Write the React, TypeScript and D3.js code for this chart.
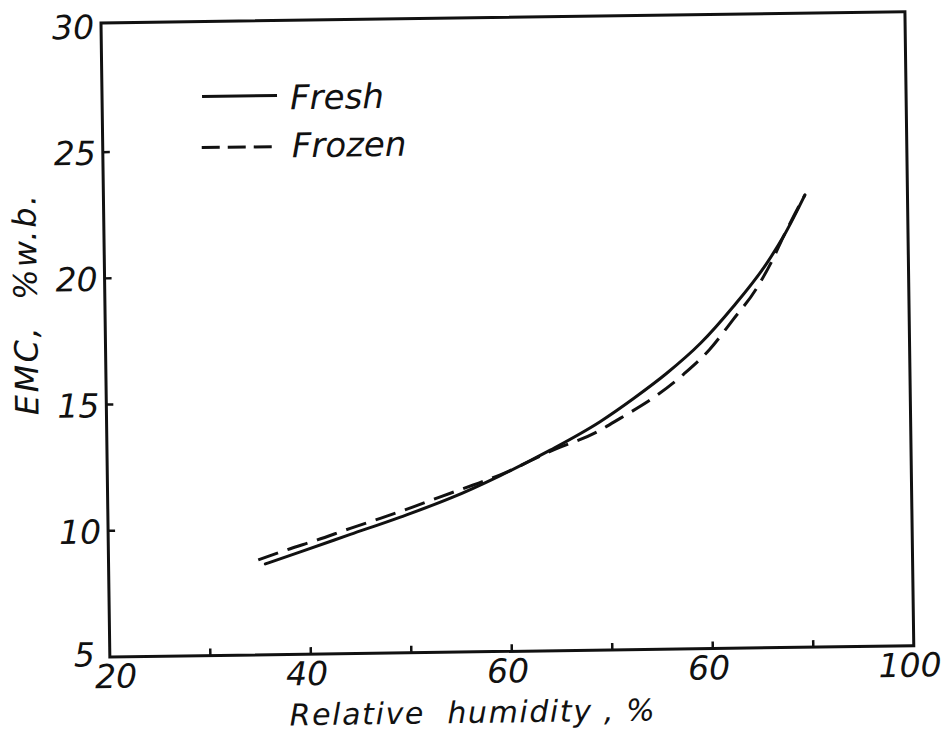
import React from 'react';
import * as d3 from 'd3';

// Axis ticks and labels (the original figure labels 80 as "60")
const xMinorTicks = [30, 40, 50, 60, 70, 80, 90];
const xLabelValues = [20, 40, 60, 80, 100];
const xLabelTexts = ['20', '40', '60', '60', '100'];
const yTickValues = [10, 15, 20, 25];
const yLabelValues = [5, 10, 15, 20, 25, 30];
const yLabelTexts = ['5', '10', '15', '20', '25', '30'];

// Series: relative humidity (%) vs EMC (% w.b.)
const freshRH = [35.6, 39.1, 44.1, 49.1, 54.1, 59.1, 64.1, 69.1, 72.5, 75.8, 79.2, 82.5, 85.9, 87.6, 89.8];
const freshEMC = [8.6, 9.06, 9.72, 10.38, 11.1, 11.97, 12.95, 14.05, 14.96, 15.93, 17.1, 18.53, 20.23, 21.28, 22.92];
const frozenRH = [34.9, 37.7, 40.8, 44.1, 47.1, 50.4, 53.1, 56.4, 59.1, 64.1, 68.8, 71.1, 74.6, 77.5, 80.1, 82.4, 84.8, 86.5, 87.6, 89.8];
const frozenEMC = [8.76, 9.14, 9.52, 9.96, 10.34, 10.78, 11.16, 11.61, 12.0, 12.9, 13.65, 14.17, 15.01, 15.89, 16.85, 17.98, 19.21, 20.38, 21.28, 22.92];

const seriesNames = ['Fresh', 'Frozen'];
const xTitle = 'Relative  humidity , %';
const yTitle = 'EMC,  %w.b.';

export default function App() {
  const W = 804;
  const H = 634;
  const x = d3.scaleLinear().domain([20, 100]).range([0, W]);
  const y = d3.scaleLinear().domain([5, 30]).range([H, 3]);
  const line = d3
    .line<[number, number]>()
    .x((d) => x(d[0]))
    .y((d) => y(d[1]))
    .curve(d3.curveMonotoneX);

  const fresh: [number, number][] = freshRH.map((v, i) => [v, freshEMC[i]]);
  const frozen: [number, number][] = frozenRH.map((v, i) => [v, frozenEMC[i]]);

  const ink = '#111';
  const font = {
    fontFamily: '"DejaVu Sans", sans-serif',
    fontStyle: 'italic' as const,
    fill: ink,
  };

  return (
    <svg
      width={942}
      height={733}
      style={{ position: 'absolute', left: 0, top: 0, background: '#fff' }}
    >
      <rect x={0} y={0} width={942} height={733} fill="#fff" />
      <g transform="translate(101,23) rotate(-0.8)">
        {/* frame */}
        <rect x={0} y={0} width={W} height={H} fill="none" stroke={ink} strokeWidth={3} />
        {/* x ticks */}
        {xMinorTicks.map((t) => (
          <line key={'xt' + t} x1={x(t)} x2={x(t)} y1={H} y2={H - 7} stroke={ink} strokeWidth={2.5} />
        ))}
        {/* y ticks */}
        {yTickValues.map((t) => (
          <line key={'yt' + t} x1={0} x2={7} y1={y(t)} y2={y(t)} stroke={ink} strokeWidth={2.5} />
        ))}
        {/* x labels */}
        {xLabelValues.map((v, i) => (
          <text
            key={'xl' + v}
            x={x(v) + (i === 0 ? 6 : -4)}
            y={H + 31}
            textAnchor="middle"
            fontSize={33}
            {...font}
          >
            {xLabelTexts[i]}
          </text>
        ))}
        {/* y labels */}
        {yLabelValues.map((v, i) => (
          <text
            key={'yl' + v}
            x={i === 0 ? -15 : -7}
            y={y(v) + (i === 0 ? 9 : 12.5)}
            textAnchor="end"
            fontSize={33}
            {...font}
          >
            {yLabelTexts[i]}
          </text>
        ))}
        {/* axis titles */}
        <text
          x={179}
          y={705}
          fontSize={30}
          textLength={365}
          lengthAdjust="spacing"
          style={{ whiteSpace: 'pre' }}
          {...font}
        >
          {xTitle}
        </text>
        <text
          transform="translate(-68,391) rotate(-90)"
          x={0}
          y={0}
          fontSize={32}
          textLength={220}
          lengthAdjust="spacing"
          style={{ whiteSpace: 'pre' }}
          {...font}
        >
          {yTitle}
        </text>
        {/* curves */}
        <path d={line(fresh) || ''} fill="none" stroke={ink} strokeWidth={3} strokeLinecap="round" />
        <path
          d={line(frozen) || ''}
          fill="none"
          stroke={ink}
          strokeWidth={3}
          strokeDasharray="21 10"
          strokeLinecap="butt"
        />
        {/* legend */}
        <line x1={100} x2={175} y1={75} y2={75} stroke={ink} strokeWidth={3} />
        <text x={188} y={89} fontSize={34} {...font}>
          {seriesNames[0]}
        </text>
        <line x1={99} x2={175} y1={126} y2={126} stroke={ink} strokeWidth={3} strokeDasharray="18 8" />
        <text x={189} y={137} fontSize={34} {...font}>
          {seriesNames[1]}
        </text>
      </g>
    </svg>
  );
}
